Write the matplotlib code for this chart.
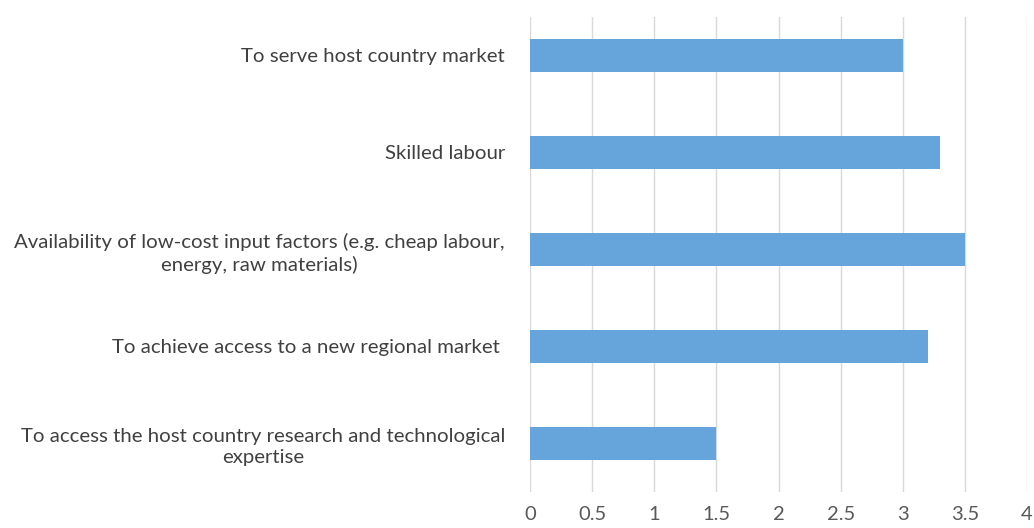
import matplotlib
matplotlib.use("Agg")
import matplotlib.pyplot as plt

# motives for investing, top to bottom
reasons = [
    "To serve host country market",
    "Skilled labour",
    "Availability of low-cost input factors (e.g. cheap labour,\nenergy, raw materials)",
    "To achieve access to a new regional market ",
    "To access the host country research and technological\nexpertise",
]
scores = [3.0, 3.3, 3.5, 3.2, 1.5]
xticks = [0, 0.5, 1, 1.5, 2, 2.5, 3, 3.5, 4]
xtick_labels = ["0", "0.5", "1", "1.5", "2", "2.5", "3", "3.5", "4"]

plt.rcParams["font.family"] = ["Lato", "DejaVu Sans"]

fig = plt.figure(figsize=(10.34, 5.28), dpi=100)
ax = fig.add_axes([530 / 1034, 1 - 492 / 528, 497 / 1034, 475 / 528])

pos = list(range(len(reasons)))
ax.barh(pos, scores, height=0.34, color="#65a5db", zorder=2)

ax.set_xlim(0, 4)
ax.set_ylim(4.505, -0.392)
ax.set_xticks(xticks)
ax.set_xticklabels(xtick_labels)
ax.set_yticks(pos)
ax.set_yticklabels(reasons)
for lbl in ax.get_yticklabels():
    lbl.set_multialignment("center")
    lbl.set_linespacing(1.35)

ax.grid(axis="x", color="#d9d9d9", linewidth=1, zorder=0)
for s in ax.spines.values():
    s.set_visible(False)
ax.tick_params(axis="y", length=0, labelsize=14.7, colors="#404040", pad=18)
ax.tick_params(axis="x", length=0, labelsize=14.5, colors="#595959", pad=10)

fig.savefig("out.png", dpi=100)
